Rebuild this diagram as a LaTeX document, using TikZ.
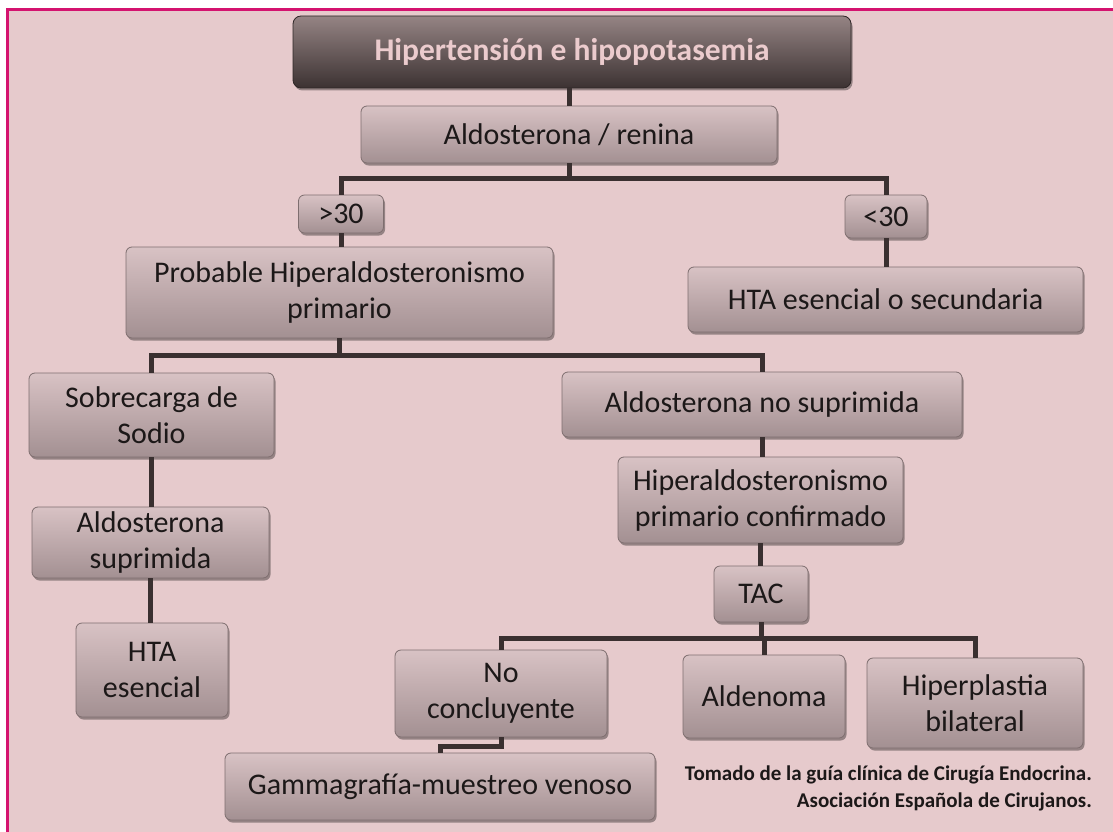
\documentclass[tikz,border=0pt]{standalone}
\usepackage{fontspec}
\setmainfont{Carlito}
\usetikzlibrary{shadows,calc}
\definecolor{bgpink}{HTML}{E6CACC}
\definecolor{framecol}{HTML}{D4136F}
\definecolor{boxtop}{HTML}{D8C2C4}
\definecolor{boxbot}{HTML}{A39092}
\definecolor{boxline}{HTML}{7E6E6F}
\definecolor{ttop}{HTML}{958484}
\definecolor{tbot}{HTML}{3C3232}
\definecolor{tline}{HTML}{2E2626}
\definecolor{ttext}{HTML}{EBCBCD}
\definecolor{conncol}{HTML}{3A3030}
\definecolor{txt}{HTML}{1C1818}
\tikzset{
  box/.style={draw=boxline, line width=0.8pt, rounded corners=6pt,
    top color=boxtop, bottom color=boxbot, inner sep=0pt, align=center,
    text=txt, font=\fontsize{30}{36}\selectfont,
    drop shadow={shadow xshift=1.5pt, shadow yshift=-2.5pt, opacity=0.35, fill=black}},
  titlebox/.style={draw=tline, line width=0.8pt, rounded corners=8pt,
    top color=ttop, bottom color=tbot, inner sep=0pt, align=center,
    text=ttext, font=\bfseries\fontsize{31.5}{37}\selectfont,
    drop shadow={shadow xshift=1.5pt, shadow yshift=-2.5pt, opacity=0.35, fill=black}},
  link/.style={draw=conncol, line width=5pt},
  footer/.style={inner sep=0pt, align=right, text=txt, font=\bfseries\fontsize{21}{27}\selectfont}
}
\begin{document}
\begin{tikzpicture}[x=1pt,y=1pt]
\useasboundingbox (0,0) rectangle (1113,-832);
\fill[white] (0,0) rectangle (1113,-832);
\fill[bgpink] (7,-8) rectangle (1113,-832);
\draw[framecol, line width=2.5pt] (7.7,-832) -- (7.7,-9.3) -- (1113,-9.3);

\node[titlebox, minimum width=558pt, minimum height=72pt] (title) at (572,-52) {Hipertensión e hipopotasemia};
\node[box, minimum width=416pt, minimum height=57pt] (aldo) at (569,-134.5) {Aldosterona / renina};
\node[box, minimum width=85pt, minimum height=38pt] (gt) at (341,-214) {>30};
\node[box, minimum width=82pt, minimum height=43pt] (lt) at (886,-216.5) {<30};
\node[box, minimum width=427pt, minimum height=91pt] (prob) at (339.5,-292.5) {Probable Hiperaldosteronismo\\primario};
\node[box, minimum width=395pt, minimum height=65pt] (htasec) at (885.5,-299.5) {HTA esencial o secundaria};
\node[box, minimum width=245pt, minimum height=84pt] (sobre) at (151.5,-415) {Sobrecarga de\\Sodio};
\node[box, minimum width=400pt, minimum height=65pt] (nosup) at (762,-404.5) {Aldosterona no suprimida};
\node[box, minimum width=237pt, minimum height=71pt] (supr) at (150.5,-542.5) {Aldosterona\\suprimida};
\node[box, minimum width=152pt, minimum height=94pt] (hta) at (152,-670) {HTA\\esencial};
\node[box, minimum width=285pt, minimum height=86pt] (conf) at (760.5,-500) {Hiperaldosteronismo\\primario confirmado};
\node[box, minimum width=94pt, minimum height=56pt] (tac) at (761,-594) {TAC};
\node[box, minimum width=212pt, minimum height=87pt] (nocon) at (501,-693.5) {No\\concluyente};
\node[box, minimum width=162pt, minimum height=83pt] (alde) at (764,-696.5) {Aldenoma};
\node[box, minimum width=216pt, minimum height=90pt] (hiper) at (975,-703) {Hiperplastia\\bilateral};
\node[box, minimum width=430pt, minimum height=67pt] (gamma) at (440,-786.5) {Gammagrafía-muestreo venoso};
\node[footer, anchor=east] (foot) at (1092,-788) {Tomado de la guía clínica de Cirugía Endocrina.\\Asociación Española de Cirujanos.};

\coordinate (j1) at (569,-178);
\coordinate (j2) at (339.5,-355);
\coordinate (j3) at (761,-638);

\draw[link] (aldo.north) -- (aldo.north |- title.south);
\draw[link] (aldo.south) -- (j1);
\draw[link] (gt.north) |- (j1) -| (lt.north);
\draw[link] (gt.south) -- (gt.south |- prob.north);
\draw[link] (lt.south) -- (lt.south |- htasec.north);
\draw[link] (prob.south) -- (j2);
\draw[link] (sobre.north) |- (j2) -| (nosup.north);
\draw[link] (sobre.south) -- (sobre.south |- supr.north);
\draw[link] (supr.south) -- (supr.south |- hta.north);
\draw[link] (nosup.south) -- (nosup.south |- conf.north);
\draw[link] (conf.south) -- (conf.south |- tac.north);
\draw[link] (tac.south) -- (j3);
\draw[link] (nocon.north) |- (j3) -| (hiper.north);
\draw[link] (alde.north) -- (alde.north |- j3);
\draw[link] (nocon.south) -- ++(0,-9) -| (gamma.north);
\end{tikzpicture}
\end{document}
